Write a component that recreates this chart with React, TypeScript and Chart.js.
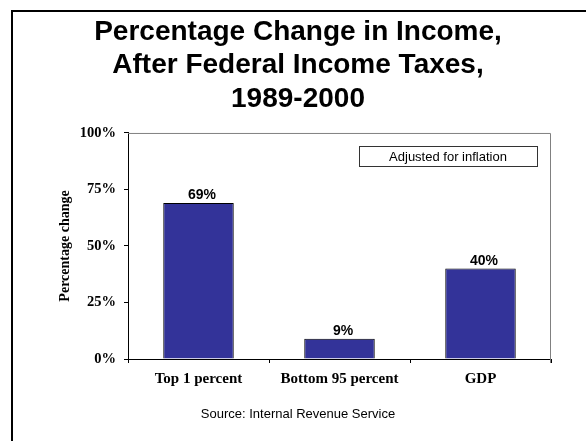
import { useEffect, useRef } from 'react';
import { Chart, registerables } from 'chart.js';

Chart.register(...registerables);

const categories = ['Top 1 percent', 'Bottom 95 percent', 'GDP'];
const changes = [69, 9, 40];
const yMin = 0;
const yMax = 100;
const yStep = 25;
const titleLines = ['Percentage Change in Income,', 'After Federal Income Taxes,', '1989-2000'];
const yTitle = 'Percentage change';
const noteText = 'Adjusted for inflation';
const sourceText = 'Source: Internal Revenue Service';

const SANS = '"Liberation Sans", Arial, sans-serif';
const SERIF = '"Liberation Serif", "Times New Roman", serif';

const framePlugin = {
  id: 'frame',
  beforeDraw(chart: any) {
    const { ctx, width, height } = chart;
    ctx.save();
    ctx.fillStyle = '#ffffff';
    ctx.fillRect(0, 0, width, height);
    ctx.strokeStyle = '#000000';
    ctx.lineWidth = 2;
    ctx.beginPath();
    ctx.moveTo(12, height + 2);
    ctx.lineTo(12, 11);
    ctx.lineTo(width + 2, 11);
    ctx.stroke();
    ctx.restore();
  },
};

const decorPlugin = {
  id: 'decor',
  afterDatasetsDraw(chart: any) {
    const { ctx, chartArea } = chart;
    const { left, top, right, bottom } = chartArea;
    ctx.save();
    // plot border (top & right)
    ctx.strokeStyle = '#808080';
    ctx.lineWidth = 1;
    ctx.beginPath();
    ctx.moveTo(left, top + 0.5);
    ctx.lineTo(right - 0.5, top + 0.5);
    ctx.lineTo(right - 0.5, bottom + 4);
    ctx.stroke();

    // value labels
    const meta = chart.getDatasetMeta(0);
    ctx.fillStyle = '#000000';
    ctx.font = `bold 14px ${SANS}`;
    ctx.textAlign = 'center';
    ctx.textBaseline = 'alphabetic';
    meta.data.forEach((bar: any, i: number) => {
      ctx.fillText(`${changes[i]}%`, bar.x + 3.5, bar.y - 3.7);
    });

    // note box
    const bw = 178;
    const bh = 20;
    const bx = right - 14 - bw;
    const by = top + 13;
    ctx.fillStyle = '#ffffff';
    ctx.fillRect(bx, by, bw, bh);
    ctx.strokeStyle = '#333333';
    ctx.lineWidth = 1;
    ctx.strokeRect(Math.round(bx) + 0.5, Math.round(by) + 0.5, bw, bh);
    ctx.fillStyle = '#000000';
    ctx.font = `13px ${SANS}`;
    ctx.textBaseline = 'middle';
    ctx.fillText(noteText, bx + bw / 2, by + bh / 2 + 1);
    ctx.restore();
  },
};

export default function App() {
  const canvasRef = useRef<HTMLCanvasElement | null>(null);

  useEffect(() => {
    document.body.style.margin = '0';
    const canvas = canvasRef.current;
    if (!canvas) return;
    const chart = new Chart(canvas, {
      type: 'bar',
      data: {
        labels: categories,
        datasets: [
          {
            label: 'Percentage change',
            data: changes,
            backgroundColor: '#333399',
            borderColor: '#000000',
            borderWidth: 1,
            barPercentage: 0.5,
            categoryPercentage: 1,
          },
        ],
      },
      options: {
        responsive: false,
        animation: false,
        devicePixelRatio: 1,
        layout: { padding: { left: 10, right: 0, top: 0, bottom: 0 } },
        plugins: {
          legend: { display: false },
          tooltip: { enabled: false },
          title: {
            display: true,
            text: titleLines,
            color: '#000000',
            font: { family: SANS, size: 28, weight: 'bold', lineHeight: 1.196 },
            padding: { top: 15.5, bottom: 17 },
          },
          subtitle: {
            display: true,
            position: 'bottom',
            text: sourceText,
            color: '#000000',
            font: { family: SANS, size: 13, weight: 'normal', lineHeight: 1.2 },
            padding: { top: 11.7, bottom: 18.7 },
          },
        },
        scales: {
          x: {
            type: 'category',
            offset: true,
            grid: {
              display: true,
              offset: true,
              drawOnChartArea: false,
              drawTicks: true,
              tickLength: 4,
              color: '#000000',
            },
            border: { display: true, color: '#000000', width: 1 },
            ticks: {
              color: '#000000',
              padding: 7.3,
              maxRotation: 0,
              font: { family: SERIF, size: 15, weight: 'bold', lineHeight: 1.2 },
            },
            afterFit(scale: any) {
              scale.height = 36;
            },
          },
          y: {
            type: 'linear',
            position: 'left',
            min: yMin,
            max: yMax,
            grid: {
              display: true,
              drawOnChartArea: false,
              drawTicks: true,
              tickLength: 4,
              color: '#000000',
            },
            border: { display: true, color: '#000000', width: 1 },
            ticks: {
              stepSize: yStep,
              color: '#000000',
              padding: 8,
              font: { family: SERIF, size: 14.5, weight: 'bold' },
              callback: (v: any) => `${v}%`,
            },
            title: {
              display: true,
              text: yTitle,
              color: '#000000',
              font: { family: SERIF, size: 14, weight: 'bold', lineHeight: 1.2 },
              padding: { top: 46.6, bottom: 0 },
            },
            afterFit(scale: any) {
              scale.width = 118;
            },
          },
          yR: {
            type: 'linear',
            position: 'right',
            display: true,
            grid: { display: false },
            border: { display: false },
            ticks: { display: false },
            afterFit(scale: any) {
              scale.width = 35;
            },
          },
        },
      },
      plugins: [framePlugin, decorPlugin],
    } as any);
    return () => chart.destroy();
  }, []);

  return (
    <div style={{ width: 586, height: 441 }}>
      <canvas ref={canvasRef} width={586} height={441} style={{ display: 'block' }} />
    </div>
  );
}
